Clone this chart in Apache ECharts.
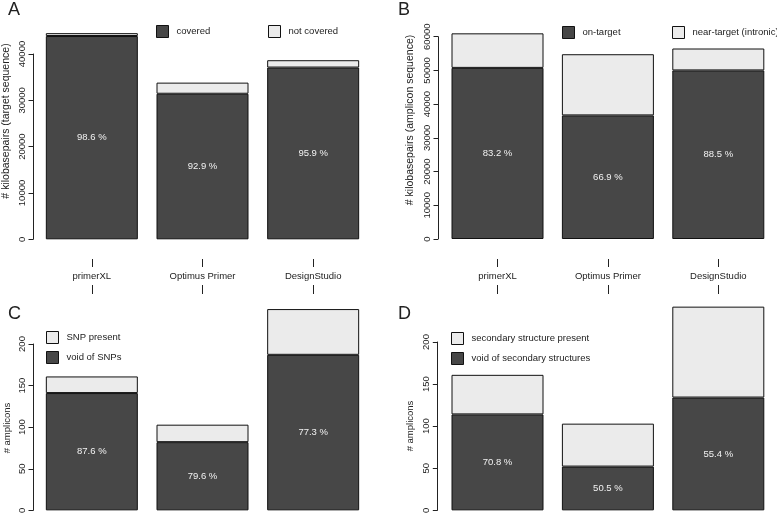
<!DOCTYPE html>
<html>
<head>
<meta charset="utf-8">
<script src="https://cdn.jsdelivr.net/npm/echarts@6/dist/echarts.min.js"></script>
<style>
html,body{margin:0;padding:0;background:#fff;}
#chart{width:777px;height:516px;}
</style>
</head>
<body>
<div id="chart"></div>
<script>
// ---- data ----
var categories = ['primerXL', 'Optimus Primer', 'DesignStudio'];

var coveredA = [43880, 31420, 37075];
var notCoveredA = [620, 2400, 1585];
var pctA = [98.6, 92.9, 95.9];

var onTargetB = [50750, 36660, 50000];
var nearTargetB = [10250, 18140, 6500];
var pctB = [83.2, 66.9, 88.5];

var voidSnpC = [141, 82, 187];
var snpPresentC = [20, 21, 55];
var pctC = [87.6, 79.6, 77.3];

var voidSecD = [114, 52, 134];
var secPresentD = [47, 51, 108];
var pctD = [70.8, 50.5, 55.4];

var yTitles = ['# kilobasepairs (target sequence)', '# kilobasepairs (amplicon sequence)', '# amplicons', '# amplicons'];
var panelLetters = ['A', 'B', 'C', 'D'];

// ---- style ----
var FONT = '"Liberation Sans", Arial, Helvetica, sans-serif';
var FS = 9.5;
var DARK = '#474747';
var LIGHT = '#ebebeb';
var EDGE = '#111';
var TXT = '#222';

var chart = echarts.init(document.getElementById('chart'), null, {renderer: 'canvas'});

var grids = [
  {left: 36.5, width: 332, top: 54, height: 185.3},
  {left: 442.3, width: 331.2, top: 36.7, height: 202.3},
  {left: 36.5, width: 332, top: 344, height: 170},
  {left: 442.3, width: 331.2, top: 342, height: 170}
];

function xAxisFor(i) {
  var top = i < 2;
  return {
    type: 'category',
    gridIndex: i,
    data: categories,
    position: top ? 'bottom' : 'top',
    offset: top ? (i === 0 ? 19.7 : 20) : (i === 2 ? 50 : 48),
    axisLine: {show: false, onZero: false},
    axisTick: {show: true, alignWithLabel: true, length: top ? 8 : 9, lineStyle: {color: TXT, width: 1}},
    axisLabel: {show: top, margin: 12, fontSize: FS, color: TXT, fontFamily: FONT},
    splitLine: {show: false}
  };
}

var yMax = [40000, 60000, 200, 200];
var yInt = [10000, 10000, 50, 50];
var yOffsets = [3.5, 4.3, 3.5, 5];

function yAxisFor(i) {
  return {
    type: 'value',
    gridIndex: i,
    min: 0,
    max: yMax[i],
    interval: yInt[i],
    offset: yOffsets[i],
    axisLine: {show: true, onZero: false, lineStyle: {color: TXT, width: 1}},
    axisTick: {show: true, length: 4.5, lineStyle: {color: TXT, width: 1}},
    axisLabel: {rotate: 90, margin: 6, fontSize: FS, color: TXT, fontFamily: FONT,
      formatter: function (v) { return String(v); }},
    splitLine: {show: false}
  };
}

function barSeries(name, data, i, dark, pct) {
  var s = {
    type: 'bar',
    name: name,
    xAxisIndex: i,
    yAxisIndex: i,
    stack: 'p' + i,
    data: data,
    barWidth: 92,
    clip: false,
    itemStyle: {color: dark ? DARK : LIGHT, borderColor: EDGE, borderWidth: 1},
    emphasis: {disabled: true},
    animation: false
  };
  if (pct) {
    s.label = {
      show: true,
      position: 'inside',
      color: '#f2f2f2',
      fontSize: FS,
      fontFamily: FONT,
      formatter: function (p) { return pct[p.dataIndex].toFixed(1) + ' %'; }
    };
  }
  return s;
}

function legendItem(name, left, top) {
  return {
    data: [name],
    left: left,
    top: top,
    padding: 0,
    icon: 'rect',
    itemWidth: 12,
    itemHeight: 12,
    selectedMode: false,
    itemStyle: {borderColor: EDGE, borderWidth: 1},
    textStyle: {fontSize: FS, color: TXT, fontFamily: FONT, padding: [0, 0, 0, 3]}
  };
}

var titlePos = [[6, 121], [410, 120], [7, 428], [410, 426]];
var titleSize = [10.5, 10.5, FS, FS];
var letterPos = [[8, 1], [398, 1], [8, 305], [398, 305]];

var graphics = [];
for (var k = 0; k < 4; k++) {
  graphics.push({
    type: 'text',
    x: titlePos[k][0],
    y: titlePos[k][1],
    rotation: Math.PI / 2,
    style: {text: yTitles[k], fontSize: titleSize[k], fill: TXT, fontFamily: FONT, align: 'center', verticalAlign: 'middle'}
  });
  graphics.push({
    type: 'text',
    left: letterPos[k][0],
    top: letterPos[k][1],
    style: {text: panelLetters[k], fontSize: 18, fill: TXT, fontFamily: FONT}
  });
}

var option = {
  animation: false,
  backgroundColor: '#fff',
  textStyle: {fontFamily: FONT},
  grid: grids,
  xAxis: [xAxisFor(0), xAxisFor(1), xAxisFor(2), xAxisFor(3)],
  yAxis: [yAxisFor(0), yAxisFor(1), yAxisFor(2), yAxisFor(3)],
  legend: [
    legendItem('covered', 156, 25),
    legendItem('not covered', 268, 25),
    legendItem('on-target', 562, 26),
    legendItem('near-target (intronic)', 672, 26),
    legendItem('SNP present', 46, 331),
    legendItem('void of SNPs', 46, 351),
    legendItem('secondary structure present', 451, 332),
    legendItem('void of secondary structures', 451, 352)
  ],
  series: [
    barSeries('covered', coveredA, 0, true, pctA),
    barSeries('not covered', notCoveredA, 0, false),
    barSeries('on-target', onTargetB, 1, true, pctB),
    barSeries('near-target (intronic)', nearTargetB, 1, false),
    barSeries('void of SNPs', voidSnpC, 2, true, pctC),
    barSeries('SNP present', snpPresentC, 2, false),
    barSeries('void of secondary structures', voidSecD, 3, true, pctD),
    barSeries('secondary structure present', secPresentD, 3, false)
  ],
  graphic: graphics
};

chart.setOption(option);
</script>
</body>
</html>
